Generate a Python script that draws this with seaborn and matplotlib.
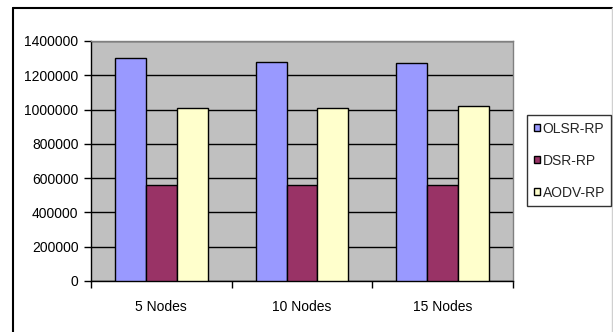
import matplotlib
matplotlib.use("Agg")
import matplotlib.pyplot as plt
import seaborn as sns
import pandas as pd
from matplotlib.lines import Line2D
from matplotlib.patches import Patch

categories = ["5 Nodes", "10 Nodes", "15 Nodes"]
series = ["OLSR-RP", "DSR-RP", "AODV-RP"]
olsr = [1300000, 1280000, 1270000]
dsr = [560000, 560000, 560000]
aodv = [1010000, 1010000, 1020000]
colors = ["#9999FF", "#993366", "#FFFFCC"]
yticks = [0, 200000, 400000, 600000, 800000, 1000000, 1200000, 1400000]

rows = []
for name, vals in zip(series, [olsr, dsr, aodv]):
    for c, v in zip(categories, vals):
        rows.append({"cat": c, "series": name, "value": v})
df = pd.DataFrame(rows)

sns.set_style("white")
plt.rcParams['font.family'] = ['Liberation Sans', 'DejaVu Sans']
plt.rcParams['font.size'] = 10

fig = plt.figure(figsize=(6.13, 3.32), dpi=100)
W, H = 613, 332
ax = fig.add_axes([91 / W, 1 - 281 / H, (513 - 91) / W, (281 - 41) / H])

sns.barplot(data=df, x="cat", y="value", hue="series", order=categories,
            hue_order=series, palette=colors, width=0.66, edgecolor="black",
            linewidth=1, saturation=1, ax=ax, legend=False, zorder=3)

ax.set_facecolor("#C0C0C0")
ax.set_ylim(0, 1400000)
ax.set_xlim(-0.5, 2.5)
ax.set_yticks(yticks)
ax.set_yticklabels([str(t) for t in yticks])
ax.yaxis.grid(True, color="black", linewidth=1, zorder=1)
ax.set_axisbelow(True)
ax.set_xlabel("")
ax.set_ylabel("")

ax.set_xticks([0, 1, 2])
ax.set_xticklabels(categories)
ax.tick_params(axis="x", which="major", length=0, pad=14, colors="black")
ax.set_xticks([-0.5, 0.5, 1.5, 2.5], minor=True)
ax.tick_params(axis="x", which="minor", length=5, width=1, direction="out", color="black", bottom=True)
ax.tick_params(axis="y", length=5, width=1, direction="out", left=True, pad=4, colors="black")

for s in ["left", "bottom"]:
    ax.spines[s].set_color("black")
    ax.spines[s].set_linewidth(1)
for s in ["top", "right"]:
    ax.spines[s].set_visible(True)
    ax.spines[s].set_color("#808080")
    ax.spines[s].set_linewidth(1)

handles = [Patch(facecolor=c, edgecolor="black", linewidth=1) for c in colors]
leg = fig.legend(handles, series, loc="upper left",
                 bbox_to_anchor=(527 / W, 1 - 115 / H),
                 frameon=True, fancybox=False, edgecolor="black",
                 handlelength=0.45, handleheight=0.45, handletextpad=0.2,
                 labelspacing=1.3, borderpad=0.47, borderaxespad=0, fontsize=10)
leg.get_frame().set_linewidth(1)

# outer chart border
fig.add_artist(Line2D([13 / W, 13 / W], [0, 1 - 8 / H], color="black", linewidth=1.5, transform=fig.transFigure))
fig.add_artist(Line2D([13 / W, 611.5 / W], [1 - 8 / H, 1 - 8 / H], color="black", linewidth=1.5, transform=fig.transFigure))
fig.add_artist(Line2D([611.5 / W, 611.5 / W], [0, 1 - 8 / H], color="#D0D0D0", linewidth=1, transform=fig.transFigure))

fig.savefig("out.png", dpi=100)
